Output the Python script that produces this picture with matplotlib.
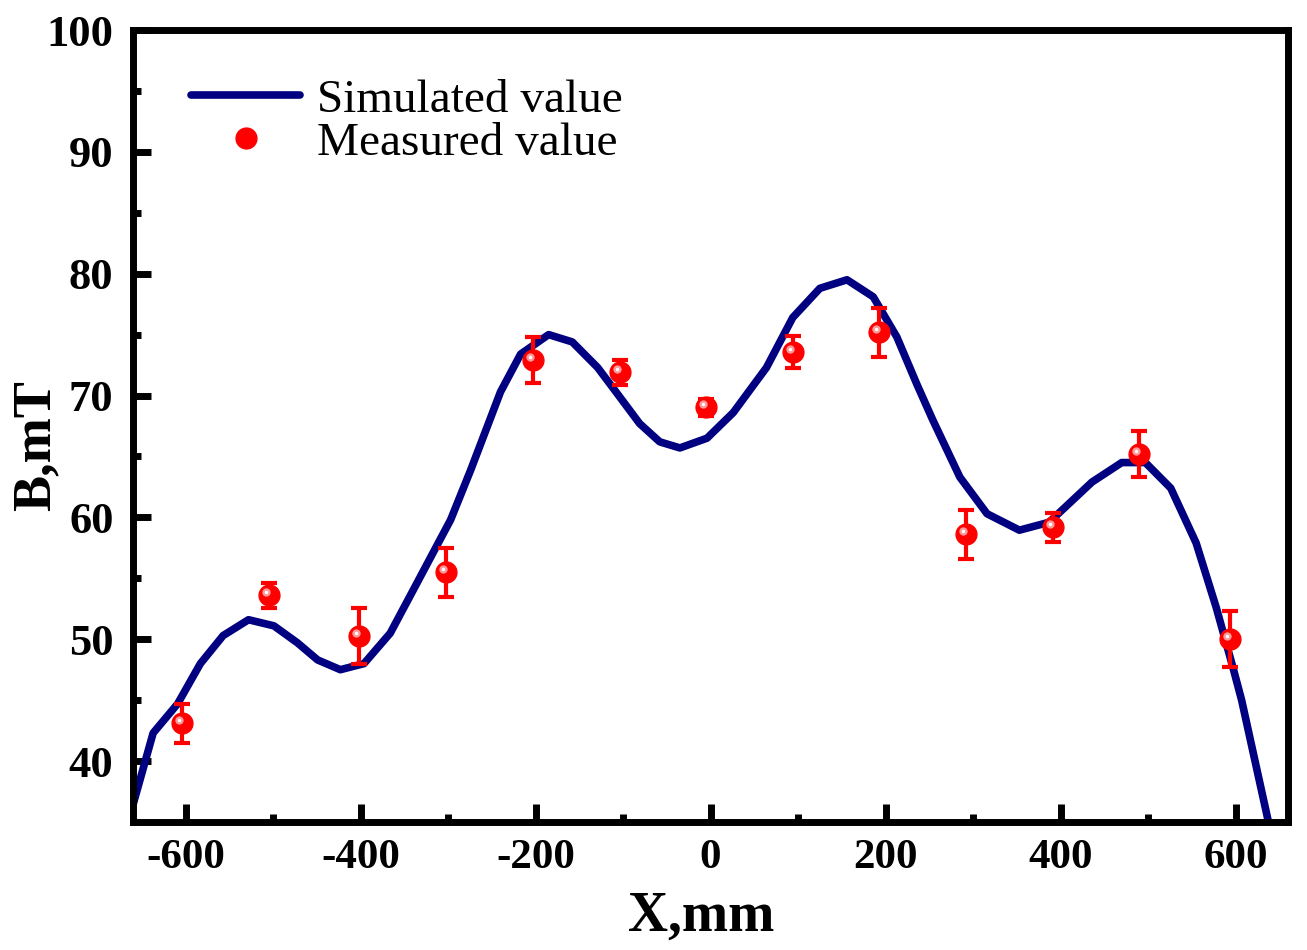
import matplotlib
matplotlib.use("Agg")
import matplotlib.pyplot as plt
import matplotlib.transforms as mtransforms
import numpy as np

# Simulated curve
sim_x = [-662, -637, -609, -583, -557, -528, -499, -472, -449, -423, -396, -366, -340,
         -320, -297, -274, -240, -217, -185, -158, -129, -107, -81, -58, -35, -4, 26,
         64, 94, 125, 156, 186, 213, 236, 254, 285, 316, 353, 387, 436, 470, 497, 526,
         555, 578, 597, 607, 645]
sim_B = [35.9, 42.3, 44.7, 48.0, 50.3, 51.6, 51.1, 49.7, 48.3, 47.5, 48.0, 50.5, 54.0,
         56.7, 59.8, 63.9, 70.3, 73.4, 75.0, 74.4, 72.3, 70.2, 67.7, 66.2, 65.7, 66.5, 68.6,
         72.3, 76.4, 78.8, 79.5, 78.1, 74.8, 70.9, 68.0, 63.3, 60.3, 58.95, 59.6, 62.9, 64.5, 64.5, 62.4,
         57.9, 52.6, 47.7, 45.0, 32.6]

# Measured values
meas_x = [-604, -505, -402, -302, -203, -104, -5, 94, 193, 292, 391, 490, 594]
meas_B = [43.1, 53.6, 50.3, 55.5, 72.9, 71.9, 69.05, 73.6, 75.2, 58.6, 59.2, 65.2, 50.0]
meas_err = [1.6, 1.0, 2.3, 2.0, 1.9, 1.0, 0.7, 1.3, 2.0, 2.0, 1.2, 1.9, 2.3]

xticks = [-600, -400, -200, 0, 200, 400, 600]
yticks = [40, 50, 60, 70, 80, 90, 100]

plt.rcParams['font.family'] = ['Liberation Serif', 'DejaVu Serif']

fig = plt.figure(figsize=(13.07, 9.5), dpi=100)
ax = fig.add_axes([133/1307, 1-822/950, (1288-133)/1307, (822-30)/950])

ax.plot(sim_x, sim_B, color='#000080', lw=5.5, solid_joinstyle='round',
        solid_capstyle='round', label='Simulated value', zorder=2)

ax.errorbar(meas_x, meas_B, yerr=meas_err, fmt='none', ecolor='#ff0000',
            elinewidth=3, capsize=6, capthick=3, zorder=3)
ax.plot(meas_x, meas_B, 'o', color='#ff0000', mec='#ff0000', ms=15,
        label='Measured value', zorder=4)
off1 = mtransforms.ScaledTranslation(-3/100, 3/100, fig.dpi_scale_trans)
ax.plot(meas_x, meas_B, 'o', color='#ff9a9a', mec='none', ms=6,
        transform=ax.transData + off1, zorder=5)
ax.plot(meas_x, meas_B, 'o', color='#ffffff', mec='none', ms=2.5,
        transform=ax.transData + off1, zorder=6)

ax.set_xlim(-660, 660)
ax.set_ylim(35, 100)
ax.set_xticks(xticks)
ax.set_yticks(yticks)
ax.set_xticks(np.arange(-500, 600, 200), minor=True)
ax.set_yticks(np.arange(45, 100, 10), minor=True)
ax.set_xticklabels([str(v) for v in xticks])
ax.set_yticklabels([str(v) for v in yticks])

for s in ax.spines.values():
    s.set_linewidth(5)
ax.tick_params(which='major', direction='in', length=13, width=5, labelsize=31, pad=12)
ax.tick_params(which='minor', direction='in', length=6, width=5)
ax.tick_params(axis='y', which='major', pad=14, labelsize=32)
ax.tick_params(top=False, right=False, which='both')
for lbl in ax.get_xticklabels() + ax.get_yticklabels():
    lbl.set_fontweight('bold')

ax.set_xlabel('X,mm', fontsize=40, fontweight='bold', labelpad=10)
ax.xaxis.label.set_x(0.492)
ax.set_ylabel('B,mT', fontsize=39, fontweight='bold')
ax.yaxis.set_label_coords(-0.062, 0.475)

leg = ax.legend(loc='upper left', bbox_to_anchor=(0.022, 0.98), frameon=False,
                fontsize=34, handlelength=2.3, handletextpad=0.35, labelspacing=0.0,
                borderpad=0.2)

fig.savefig('out.png', dpi=100)
